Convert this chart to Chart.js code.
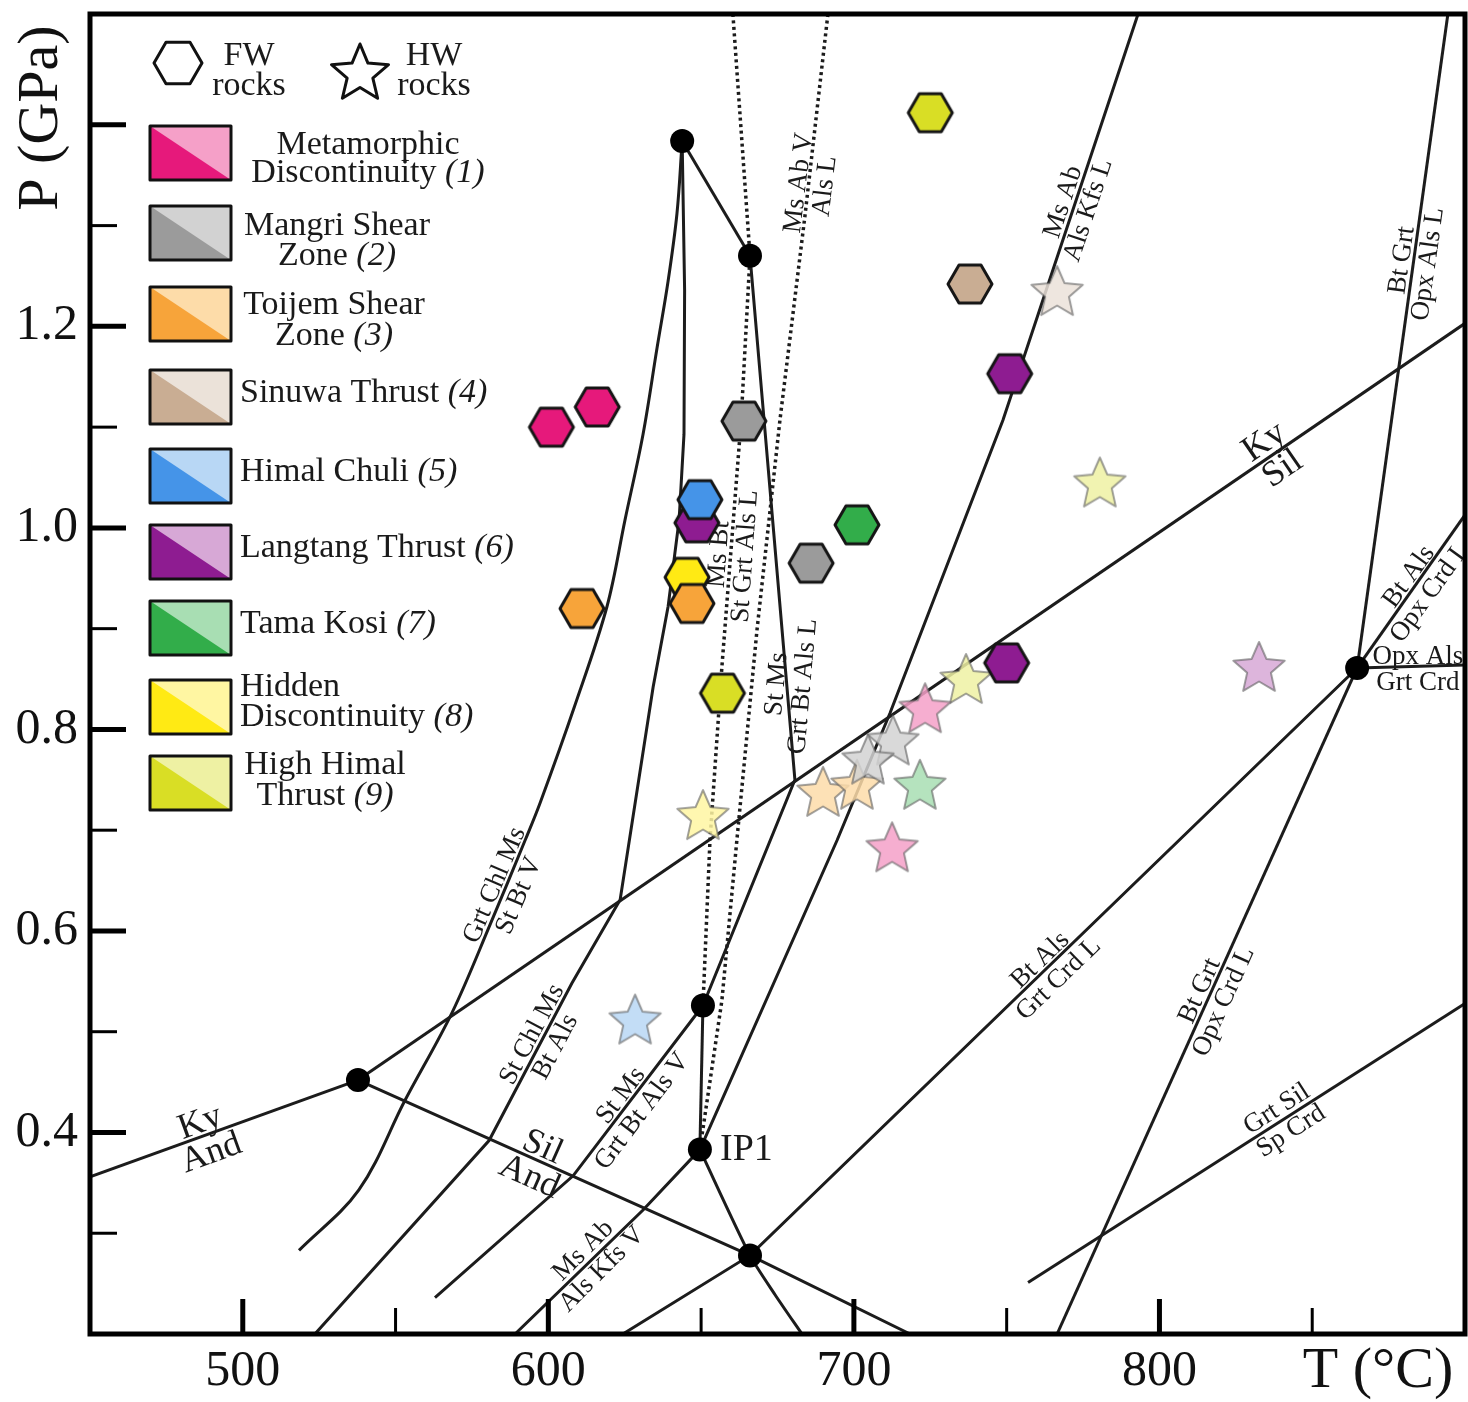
<!DOCTYPE html>
<html>
<head>
<meta charset="utf-8">
<title>P-T diagram</title>
<script src="https://cdn.jsdelivr.net/npm/chart.js@4.4.1/dist/chart.umd.min.js"></script>
<style>
  html, body { margin: 0; padding: 0; background: #fff; }
  canvas { display: block; }
</style>
</head>
<body>
<canvas id="ptChart" width="1468" height="1402"></canvas>
<script>
// ---- data: T in °C, P in GPa ----
const groups = ["Metamorphic Discontinuity", "Mangri Shear Zone", "Toijem Shear Zone", "Sinuwa Thrust",
  "Himal Chuli", "Langtang Thrust", "Tama Kosi", "Hidden Discontinuity", "High Himal Thrust"];
const darkColors = ["#e6197b", "#9b9b9b", "#f7a43a", "#c9ad93", "#4594e8", "#8e1c91", "#32ad4a", "#ffea14", "#d9de25"];
const lightColors = ["#f5a0c8", "#d2d2d2", "#fddca9", "#ebe2d9", "#b8d7f5", "#d7a8d6", "#a8deb3", "#fff6a2", "#eef1a3"];

// footwall rocks (hexagons), one list per group
const fwRocks = [
  [[601, 1.10], [616, 1.12]],
  [[664, 1.106], [686, 0.965]],
  [[611, 0.92], [647, 0.925]],
  [[738, 1.242]],
  [[649.6, 1.028]],
  [[648.6, 1.005], [751, 1.153], [750, 0.866]],
  [[701, 1.003]],
  [[645.4, 0.951]],
  [[725, 1.412], [657, 0.836]]
];
// hanging wall rocks (stars)
const hwRocks = [
  [[723.3, 0.821], [712.5, 0.683]],
  [[712.8, 0.789], [704.6, 0.770]],
  [[689.9, 0.738], [701.0, 0.745]],
  [[766.5, 1.235]],
  [[628.4, 0.512]],
  [[832.6, 0.862]],
  [[721.6, 0.745]],
  [[650.6, 0.715]],
  [[780.5, 1.045], [736.7, 0.850]]
];

// invariant points
const invT = [643.8, 666.0, 537.7, 650.6, 649.6, 666.0, 864.7];
const invP = [1.384, 1.270, 0.452, 0.526, 0.383, 0.278, 0.861];

// reaction curves
const kyAnd = [[450, 0.356], [537.7, 0.452]];
const kySil = [[537.7, 0.452], [900, 1.203]];
const silAnd = [[537.7, 0.452], [666.0, 0.278], [718.4, 0.2]];
const grtChlMs = [[643.8, 1.384], [642.1, 1.312], [639.2, 1.245], [635.6, 1.179], [631.0, 1.093], [625.1, 1.008],
  [619.2, 0.922], [608.7, 0.824], [597.3, 0.727], [592.4, 0.690], [580.9, 0.606], [568.5, 0.519],
  [553.1, 0.432], [538.0, 0.343], [518.4, 0.283]];
const stChlMs = [[643.8, 1.384], [644.6, 1.236], [644.4, 1.093], [642.8, 1.008], [639.2, 0.922], [634.3, 0.842],
  [623.5, 0.631], [607.7, 0.548], [580.6, 0.392], [523.6, 0.200]];
const stMsV = [[650.6, 0.526], [608.1, 0.357], [562.9, 0.236]];
const stMsL = [[666.0, 1.270], [680.7, 0.750], [650.6, 0.526]];
const msAbKfsL = [[649.6, 0.383], [694.5, 0.690], [711.8, 0.816], [748.8, 1.107], [793.0, 1.510]];
const msAbKfsV = [[649.6, 0.383], [631.0, 0.323], [589.1, 0.200]];
const ip1Link = [[649.6, 0.383], [650.6, 0.526]];
const ip1Down = [[649.6, 0.383], [666.0, 0.278], [674.2, 0.239], [683.0, 0.200]];
const peakLink = [[643.8, 1.384], [666.0, 1.270]];
const btAlsGrtCrd = [[624.4, 0.200], [666.0, 0.278], [864.7, 0.861]];
const btGrtOpxAls = [[864.7, 0.861], [894.4, 1.510]];
const btGrtOpxCrd = [[864.7, 0.861], [766.5, 0.200]];
const btAlsOpxCrd = [[864.7, 0.861], [900, 1.013]];
const opxAlsGrtCrd = [[864.7, 0.861], [900, 0.864]];
const grtSilSpCrd = [[757.0, 0.251], [900, 0.528]];
const msBtDotted = [[660.4, 1.510], [666.0, 1.270], [663.1, 1.107], [656.8, 0.862], [652.9, 0.690], [650.6, 0.526]];
const msAbVDotted = [[691.5, 1.510], [684.0, 1.310], [675.8, 1.107], [668.3, 0.899], [661.7, 0.690], [656.8, 0.531], [649.6, 0.383]];

// axis ticks
const tempTicks = [500, 600, 700, 800];
const tempMinor = [550, 650, 750, 850];
const presTicks = [0.4, 0.6, 0.8, 1.0, 1.2];
const presMajor = [0.4, 0.6, 0.8, 1.0, 1.2, 1.4];
const presMinor = [0.3, 0.5, 0.7, 0.9, 1.1, 1.3];

// reaction labels (anchor on the curve, text above / below it)
const lineLabels = [
  { t: 487.6, p: 0.397, angle: -19.9, above: "Ky", below: "And", size: 36 },
  { t: 596.3, p: 0.373, angle: 24.0, above: "Sil", below: "And", size: 36 },
  { t: 836.8, p: 1.074, angle: -34.4, above: "Ky", below: "Sil", size: 36 },
  { t: 585.8, p: 0.641, angle: -67, above: "Grt Chl Ms", below: "St Bt V" },
  { t: 597.9, p: 0.492, angle: -62, above: "St Chl Ms", below: "Bt Als" },
  { t: 626.7, p: 0.430, angle: -53, above: "St Ms", below: "Grt Bt Als V" },
  { t: 614.0, p: 0.275, angle: -45, above: "Ms Ab", below: "Als Kfs V" },
  { t: 659.5, p: 0.973, angle: -86, above: "Ms Bt", below: "St Grt Als L" },
  { t: 685.6, p: 1.341, angle: -83, above: "Ms Ab V", below: "Als L" },
  { t: 678.4, p: 0.844, angle: -85, above: "St Ms", below: "Grt Bt Als L" },
  { t: 772.0, p: 1.320, angle: -71.6, above: "Ms Ab", below: "Als Kfs L" },
  { t: 883.0, p: 1.264, angle: -82, above: "Bt Grt", below: "Opx Als L" },
  { t: 884.6, p: 0.945, angle: -54, above: "Bt Als", below: "Opx Crd L" },
  { t: 884.6, p: 0.861, angle: 0, above: "Opx Als", below: "Grt Crd" },
  { t: 763.5, p: 0.563, angle: -44, above: "Bt Als", below: "Grt Crd L" },
  { t: 816.5, p: 0.536, angle: -65.8, above: "Bt Grt", below: "Opx Crd L" },
  { t: 840.4, p: 0.414, angle: -32.7, above: "Grt Sil", below: "Sp Crd" }
];
const ip1Label = { t: 656.2, p: 0.383, text: "IP1" };

const SERIF = "'Liberation Serif', 'Times New Roman', serif";

function hexPath(g, cx, cy, r) {
  g.beginPath();
  for (let i = 0; i < 6; i++) {
    const a = i * Math.PI / 3;
    g.lineTo(cx + r * Math.cos(a), cy + r * Math.sin(a));
  }
  g.closePath();
}
function starPath(g, cx, cy, R, ri) {
  g.beginPath();
  for (let i = 0; i < 10; i++) {
    const a = -Math.PI / 2 + i * Math.PI / 5;
    const rr = i % 2 ? ri : R;
    g.lineTo(cx + rr * Math.cos(a), cy + rr * Math.sin(a));
  }
  g.closePath();
}
function hexIcon(fill) {
  const c = document.createElement("canvas");
  c.width = 52; c.height = 46;
  const g = c.getContext("2d");
  hexPath(g, 26, 23, 22);
  g.fillStyle = fill; g.fill();
  g.lineWidth = 3; g.lineJoin = "round"; g.strokeStyle = "#151515"; g.stroke();
  return c;
}
function starIcon(fill) {
  const c = document.createElement("canvas");
  c.width = 60; c.height = 60;
  const g = c.getContext("2d");
  starPath(g, 30, 32, 27, 12.5);
  g.globalAlpha = 0.85;
  g.fillStyle = fill; g.fill();
  g.globalAlpha = 1;
  g.lineWidth = 2; g.lineJoin = "round"; g.strokeStyle = "rgba(95,95,95,0.6)"; g.stroke();
  return c;
}

const toXY = arr => arr.map(([t, p]) => ({ x: t, y: p }));

function curve(data, opts) {
  return Object.assign({
    data: toXY(data), showLine: true, borderColor: "#1c1c1c", borderWidth: 3,
    pointRadius: 0, tension: 0, order: 5, fill: false
  }, opts || {});
}

const datasets = [];
groups.forEach((name, i) => {
  datasets.push({ label: name + " FW", data: toXY(fwRocks[i]), pointStyle: hexIcon(darkColors[i]), pointRadius: 10, order: 0 });
  datasets.push({ label: name + " HW", data: toXY(hwRocks[i]), pointStyle: starIcon(lightColors[i]), pointRadius: 10, order: 0 });
});
datasets.push({
  label: "invariant points", data: invT.map((t, i) => ({ x: t, y: invP[i] })),
  pointRadius: 12, pointBackgroundColor: "#000", pointBorderWidth: 0, order: 1
});
[kyAnd, kySil, silAnd, stChlMs, stMsV, stMsL, msAbKfsL, msAbKfsV, ip1Link, peakLink,
 btAlsGrtCrd, btGrtOpxAls, btGrtOpxCrd, btAlsOpxCrd, opxAlsGrtCrd, grtSilSpCrd].forEach(c => datasets.push(curve(c)));
datasets.push(curve(grtChlMs, { tension: 0.35 }));
datasets.push(curve(ip1Down, { tension: 0.25 }));
datasets.push(curve(msBtDotted, { borderDash: [3, 3.5], borderWidth: 3.5 }));
datasets.push(curve(msAbVDotted, { borderDash: [3, 3.5], borderWidth: 3.5 }));

// legend layout
const legendRows = [
  { box: 126, x: 368, align: "center", lines: [[145, [["Metamorphic"]]], [173, [["Discontinuity "], ["(1)", 1]]]] },
  { box: 206, x: 337, align: "center", lines: [[226, [["Mangri Shear"]]], [256, [["Zone "], ["(2)", 1]]]] },
  { box: 287, x: 334, align: "center", lines: [[305, [["Toijem Shear"]]], [336, [["Zone "], ["(3)", 1]]]] },
  { box: 370, x: 240, align: "left", lines: [[393, [["Sinuwa Thrust "], ["(4)", 1]]]] },
  { box: 449, x: 240, align: "left", lines: [[472, [["Himal Chuli "], ["(5)", 1]]]] },
  { box: 525, x: 240, align: "left", lines: [[548, [["Langtang Thrust "], ["(6)", 1]]]] },
  { box: 601, x: 240, align: "left", lines: [[624, [["Tama Kosi "], ["(7)", 1]]]] },
  { box: 680, x: 240, align: "left", lines: [[687, [["Hidden"]]], [717, [["Discontinuity "], ["(8)", 1]]]] },
  { box: 756, x: 325, align: "center", lines: [[765, [["High Himal"]]], [796, [["Thrust "], ["(9)", 1]]]] }
];

function mixedText(ctx, parts, x, y, align, size) {
  const fonts = parts.map(p => (p[1] ? "italic " : "") + size + "px " + SERIF);
  const widths = parts.map((p, i) => { ctx.font = fonts[i]; return ctx.measureText(p[0]).width; });
  const total = widths.reduce((a, b) => a + b, 0);
  let cx = align === "center" ? x - total / 2 : x;
  ctx.textAlign = "left";
  parts.forEach((p, i) => { ctx.font = fonts[i]; ctx.fillText(p[0], cx, y); cx += widths[i]; });
}

const decor = {
  id: "decor",
  beforeDatasetsDraw(chart) {
    const ctx = chart.ctx, a = chart.chartArea, xs = chart.scales.x, ys = chart.scales.y;
    ctx.save();
    ctx.beginPath();
    ctx.rect(a.left, a.top, a.right - a.left, a.bottom - a.top);
    ctx.clip();
    ctx.fillStyle = "#1a1a1a";
    lineLabels.forEach(l => {
      const size = l.size || 27;
      ctx.save();
      ctx.translate(xs.getPixelForValue(l.t), ys.getPixelForValue(l.p));
      ctx.rotate(l.angle * Math.PI / 180);
      ctx.font = size + "px " + SERIF;
      ctx.textAlign = "center";
      ctx.textBaseline = "alphabetic";
      ctx.fillText(l.above, 0, -4);
      ctx.fillText(l.below, 0, 4 + size * 0.68);
      ctx.restore();
    });
    ctx.font = "38px " + SERIF;
    ctx.textAlign = "left";
    ctx.textBaseline = "middle";
    ctx.fillText(ip1Label.text, xs.getPixelForValue(ip1Label.t), ys.getPixelForValue(ip1Label.p));
    ctx.restore();
  },
  afterDraw(chart) {
    const ctx = chart.ctx, a = chart.chartArea, xs = chart.scales.x, ys = chart.scales.y;
    ctx.save();
    ctx.strokeStyle = "#000";
    ctx.lineCap = "butt";
    // inward ticks
    presMajor.forEach(v => { const y = ys.getPixelForValue(v); ctx.lineWidth = 5; ctx.beginPath(); ctx.moveTo(a.left, y); ctx.lineTo(a.left + 36, y); ctx.stroke(); });
    presMinor.forEach(v => { const y = ys.getPixelForValue(v); ctx.lineWidth = 3; ctx.beginPath(); ctx.moveTo(a.left, y); ctx.lineTo(a.left + 27, y); ctx.stroke(); });
    tempTicks.forEach(v => { const x = xs.getPixelForValue(v); ctx.lineWidth = 5; ctx.beginPath(); ctx.moveTo(x, a.bottom); ctx.lineTo(x, a.bottom - 35); ctx.stroke(); });
    tempMinor.forEach(v => { const x = xs.getPixelForValue(v); ctx.lineWidth = 3; ctx.beginPath(); ctx.moveTo(x, a.bottom); ctx.lineTo(x, a.bottom - 26); ctx.stroke(); });
    // frame
    ctx.lineWidth = 5;
    ctx.strokeRect(a.left, a.top, a.right - a.left, a.bottom - a.top);

    // axis titles
    ctx.fillStyle = "#111";
    ctx.font = "58px " + SERIF;
    ctx.textAlign = "center";
    ctx.textBaseline = "middle";
    ctx.save();
    ctx.translate(42, 118);
    ctx.rotate(-Math.PI / 2);
    ctx.fillText("P (GPa)", 0, 0);
    ctx.restore();
    ctx.fillText("T (°C)", 1378, 1372);

    // legend: symbol key
    ctx.lineWidth = 3;
    ctx.lineJoin = "round";
    ctx.strokeStyle = "#111";
    hexPath(ctx, 178, 63, 24); ctx.fillStyle = "#fff"; ctx.fill(); ctx.stroke();
    starPath(ctx, 360, 74, 30, 13.5); ctx.fill(); ctx.stroke();
    ctx.fillStyle = "#1a1a1a";
    ctx.font = "34px " + SERIF;
    ctx.textAlign = "center";
    ctx.fillText("FW", 249, 56); ctx.fillText("rocks", 249, 86);
    ctx.fillText("HW", 434, 56); ctx.fillText("rocks", 434, 86);

    // legend: group swatches
    legendRows.forEach((row, i) => {
      const x0 = 150, y0 = row.box, w = 81, h = 54;
      ctx.fillStyle = lightColors[i];
      ctx.fillRect(x0, y0, w, h);
      ctx.beginPath();
      ctx.moveTo(x0, y0); ctx.lineTo(x0 + w, y0 + h); ctx.lineTo(x0, y0 + h); ctx.closePath();
      ctx.fillStyle = darkColors[i];
      ctx.fill();
      ctx.lineWidth = 3; ctx.strokeStyle = "#111";
      ctx.strokeRect(x0, y0, w, h);
      ctx.fillStyle = "#1a1a1a";
      ctx.textBaseline = "middle";
      row.lines.forEach(([y, parts]) => mixedText(ctx, parts, row.x, y, row.align, 34));
    });
    ctx.restore();
  }
};

function noPad(s) {
  s.paddingTop = 0; s.paddingBottom = 0; s.paddingLeft = 0; s.paddingRight = 0;
}

new Chart(document.getElementById("ptChart"), {
  type: "scatter",
  data: { datasets: datasets },
  options: {
    responsive: false,
    devicePixelRatio: 1,
    animation: false,
    events: [],
    layout: { autoPadding: false, padding: { top: 14, right: 3, left: 0, bottom: 0 } },
    plugins: { legend: { display: false }, tooltip: { enabled: false } },
    scales: {
      x: {
        type: "linear", min: 450, max: 900,
        afterBuildTicks: s => { s.ticks = tempTicks.map(v => ({ value: v })); },
        afterFit: s => { s.height = 68; noPad(s); },
        grid: { display: false, drawTicks: false },
        border: { display: false },
        ticks: { font: { family: SERIF, size: 50 }, color: "#111", padding: 8, maxRotation: 0, autoSkip: false, callback: v => String(v) }
      },
      y: {
        type: "linear", min: 0.2, max: 1.51,
        afterBuildTicks: s => { s.ticks = presTicks.map(v => ({ value: v })); },
        afterFit: s => { s.width = 90; noPad(s); },
        grid: { display: false, drawTicks: false },
        border: { display: false },
        ticks: { font: { family: SERIF, size: 50 }, color: "#111", padding: 12, autoSkip: false, callback: v => v.toFixed(1) }
      }
    }
  },
  plugins: [decor]
});
</script>
</body>
</html>
